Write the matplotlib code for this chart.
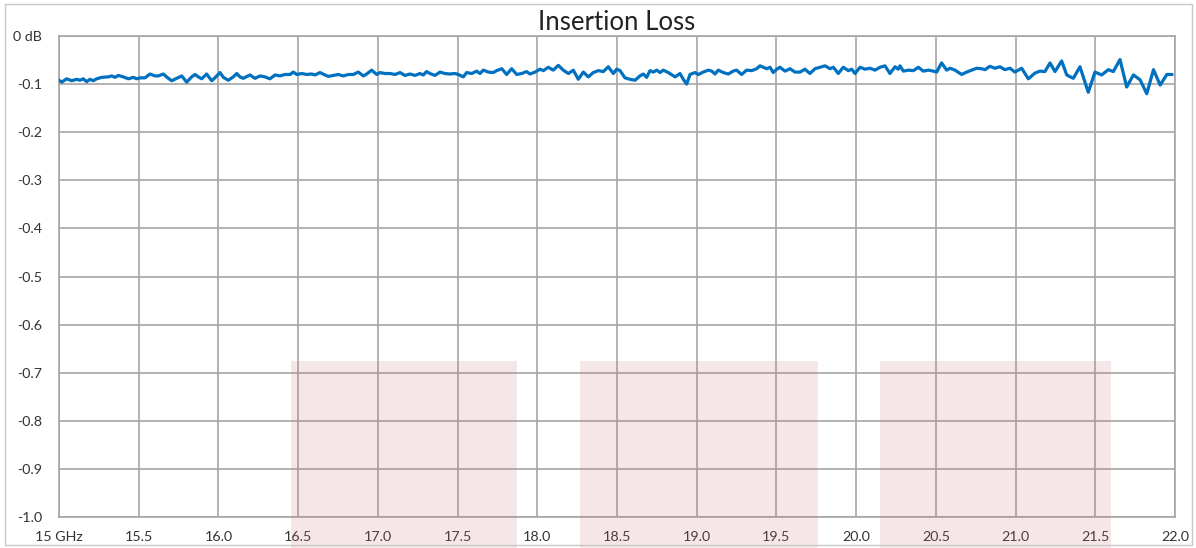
import matplotlib.pyplot as plt
from matplotlib.patches import Rectangle

# frequency (GHz) and insertion loss (dB)
freq = [15.000, 15.017, 15.048, 15.080, 15.111, 15.132, 15.152, 15.174, 15.194, 15.215,
        15.236, 15.268, 15.309, 15.331, 15.351, 15.372, 15.403, 15.435, 15.466, 15.487,
        15.508, 15.539, 15.571, 15.602, 15.623, 15.654, 15.686, 15.707, 15.738, 15.770,
        15.801, 15.832, 15.853, 15.874, 15.895, 15.926, 15.958, 15.978, 16.010, 16.031,
        16.062, 16.093, 16.115, 16.135, 16.156,
        16.167, 16.198, 16.229, 16.261, 16.292, 16.323, 16.355, 16.386, 16.418, 16.449,
        16.470, 16.491, 16.522, 16.554, 16.585, 16.606, 16.637, 16.668, 16.689, 16.721,
        16.752, 16.783, 16.815, 16.846, 16.877, 16.909, 16.930, 16.961, 16.993, 17.013,
        17.045, 17.076, 17.108, 17.139, 17.170, 17.202, 17.233, 17.264, 17.285, 17.306,
        17.327, 17.358, 17.390, 17.421, 17.452, 17.484, 17.505, 17.536, 17.557, 17.589,
        17.620, 17.641, 17.661, 17.693, 17.724, 17.745, 17.777, 17.808, 17.839, 17.871,
        17.902, 17.933, 17.954, 17.986, 18.017, 18.038, 18.069, 18.100, 18.132, 18.163,
        18.195, 18.226, 18.257, 18.289, 18.320, 18.351, 18.383, 18.414, 18.445,
        18.477, 18.498, 18.519, 18.550, 18.581, 18.613, 18.644, 18.665, 18.686, 18.707,
        18.728, 18.749, 18.770, 18.790, 18.822, 18.864, 18.895, 18.916, 18.937, 18.958,
        18.989, 19.010, 19.041, 19.073, 19.094, 19.115, 19.135, 19.167, 19.198, 19.229,
        19.250, 19.282, 19.313, 19.345, 19.376, 19.397, 19.418, 19.439, 19.460, 19.480,
        19.502, 19.522, 19.554, 19.585, 19.616,
        19.648, 19.679, 19.710, 19.742, 19.773, 19.805, 19.836, 19.857, 19.888, 19.919,
        19.951, 19.972, 19.993, 20.024, 20.056, 20.087, 20.118, 20.150, 20.181, 20.212,
        20.244, 20.264, 20.275, 20.296, 20.327, 20.359, 20.390, 20.421, 20.453, 20.484,
        20.505, 20.536, 20.568, 20.589, 20.620, 20.662, 20.693, 20.725, 20.756, 20.787,
        20.808, 20.839, 20.871, 20.902, 20.933, 20.965, 20.996, 21.038, 21.080, 21.122,
        21.153, 21.184, 21.216, 21.247, 21.289, 21.321, 21.362, 21.404, 21.456, 21.498,
        21.540, 21.582, 21.613, 21.655, 21.697, 21.739, 21.781, 21.823, 21.865, 21.907,
        21.949, 21.980]

loss = [-0.092, -0.096, -0.089, -0.093, -0.090, -0.092, -0.089, -0.095, -0.090, -0.093,
        -0.089, -0.086, -0.085, -0.083, -0.086, -0.082, -0.085, -0.089, -0.086, -0.089,
        -0.087, -0.087, -0.079, -0.083, -0.083, -0.079, -0.088, -0.093, -0.088, -0.083,
        -0.096, -0.085, -0.080, -0.085, -0.089, -0.079, -0.093, -0.087, -0.076, -0.086,
        -0.092, -0.085, -0.078, -0.085, -0.088,
        -0.086, -0.081, -0.088, -0.083, -0.085, -0.089, -0.081, -0.083, -0.080, -0.080,
        -0.075, -0.080, -0.078, -0.080, -0.079, -0.081, -0.076, -0.081, -0.084, -0.082,
        -0.080, -0.083, -0.080, -0.080, -0.075, -0.083, -0.079, -0.071, -0.080, -0.076,
        -0.078, -0.078, -0.080, -0.076, -0.082, -0.079, -0.082, -0.078, -0.081, -0.074,
        -0.078, -0.082, -0.075, -0.078, -0.079, -0.078, -0.080, -0.085, -0.076, -0.078,
        -0.073, -0.078, -0.071, -0.075, -0.076, -0.072, -0.068, -0.080, -0.068, -0.080,
        -0.078, -0.074, -0.079, -0.075, -0.069, -0.072, -0.065, -0.071, -0.061, -0.071,
        -0.078, -0.071, -0.090, -0.075, -0.085, -0.076, -0.072, -0.074, -0.064,
        -0.078, -0.069, -0.072, -0.087, -0.090, -0.092, -0.083, -0.079, -0.086, -0.072,
        -0.075, -0.071, -0.076, -0.071, -0.076, -0.085, -0.078, -0.090, -0.100, -0.080,
        -0.076, -0.080, -0.075, -0.071, -0.073, -0.079, -0.071, -0.076, -0.079, -0.073,
        -0.071, -0.080, -0.071, -0.072, -0.068, -0.062, -0.065, -0.068, -0.065, -0.076,
        -0.069, -0.065, -0.073, -0.068, -0.075,
        -0.075, -0.069, -0.078, -0.068, -0.065, -0.062, -0.068, -0.065, -0.078, -0.065,
        -0.072, -0.069, -0.078, -0.065, -0.069, -0.067, -0.071, -0.065, -0.062, -0.078,
        -0.064, -0.069, -0.062, -0.073, -0.071, -0.072, -0.065, -0.073, -0.071, -0.073,
        -0.075, -0.056, -0.071, -0.067, -0.071, -0.080, -0.075, -0.071, -0.067, -0.068,
        -0.070, -0.063, -0.067, -0.064, -0.070, -0.067, -0.075, -0.067, -0.089, -0.077,
        -0.073, -0.074, -0.056, -0.074, -0.052, -0.081, -0.088, -0.064, -0.117, -0.075,
        -0.081, -0.070, -0.074, -0.049, -0.106, -0.081, -0.091, -0.120, -0.070, -0.102,
        -0.080, -0.080]

x_ticks = [15.0, 15.5, 16.0, 16.5, 17.0, 17.5, 18.0, 18.5, 19.0, 19.5, 20.0, 20.5, 21.0, 21.5, 22.0]
x_labels = ['15 GHz'] + [f'{v:.1f}' for v in x_ticks[1:]]
y_ticks = [0.0, -0.1, -0.2, -0.3, -0.4, -0.5, -0.6, -0.7, -0.8, -0.9, -1.0]
y_labels = ['0 dB'] + [f'{v:.1f}' for v in y_ticks[1:]]

# shaded bands (start, end) in GHz, top edge in dB
bands = [(16.455, 17.873), (18.268, 19.761), (20.151, 21.600)]
band_top = -0.676

plt.rcParams['font.family'] = ['Lato', 'DejaVu Sans']

fig = plt.figure(figsize=(11.96, 5.48), dpi=100)
ax = fig.add_axes([59 / 1196, 1 - 517 / 548, (1175 - 59) / 1196, (517 - 36) / 548])

grid_col = '#a6a6a6'
ax.plot(freq, loss, color='#0070c0', linewidth=2.3, zorder=4, solid_joinstyle='round')

ax.set_xlim(15, 22)
ax.set_ylim(-1.0, 0.0)
ax.set_xticks(x_ticks)
ax.set_xticklabels(x_labels)
ax.set_yticks(y_ticks)
ax.set_yticklabels(y_labels)
ax.grid(True, color=grid_col, linewidth=1.2)
ax.set_axisbelow(True)
ax.tick_params(length=0, labelsize=10.3, colors='#333333')
ax.tick_params(axis='x', pad=10)
ax.tick_params(axis='y', pad=12)
for s in ax.spines.values():
    s.set_color(grid_col)
    s.set_linewidth(1.2)

for x0, x1 in bands:
    ax.add_patch(Rectangle((x0, -1.075), x1 - x0, band_top + 1.075,
                           facecolor=(0.78, 0.45, 0.45), alpha=0.17,
                           edgecolor='none', clip_on=False, zorder=3))

ax.set_title('Insertion Loss', fontsize=18.5, color='#222222', pad=4)

fig.patches.append(Rectangle((5 / 1196, 3 / 548), 1187 / 1196, 541 / 548,
                             transform=fig.transFigure, fill=False,
                             edgecolor='#c8c8c8', linewidth=1.0))

fig.savefig('out.png', dpi=100)
